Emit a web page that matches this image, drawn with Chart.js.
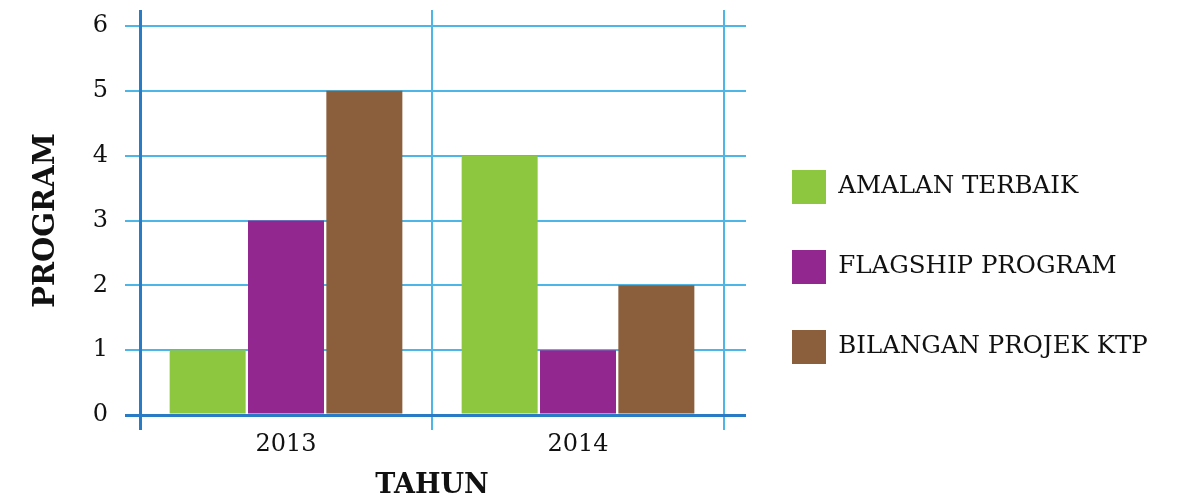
<!DOCTYPE html>
<html>
<head>
<meta charset="utf-8">
<script src="https://cdn.jsdelivr.net/npm/chart.js@4"></script>
<style>
  html, body { margin: 0; padding: 0; background: #ffffff; }
  #wrap { position: relative; width: 1193px; height: 499px; }
</style>
</head>
<body>
<div id="wrap"><canvas id="c" width="1193" height="499"></canvas></div>
<script>
const categories = ['2013', '2014'];
const seriesNames = ['AMALAN TERBAIK', 'FLAGSHIP PROGRAM', 'BILANGAN PROJEK KTP'];
const amalanTerbaik = [1, 4];
const flagshipProgram = [3, 1];
const bilanganProjekKtp = [5, 2];
const seriesColors = ['#8dc63f', '#92278f', '#8b5e3c'];
const yTicks = [0, 1, 2, 3, 4, 5, 6];
const xTitle = 'TAHUN';
const yTitle = 'PROGRAM';

const GRID = '#4db6e6';
const AXIS = '#2a7bc6';
const FONT = "'DejaVu Serif', serif";
const LEGEND_SIZE = 24.5;
const LEGEND_PAD = 46;
const BOX = 34;
const LEGEND_LEFT = 746;

// width of the legend so that its boxes start at the same place as in the reference
const mctx = document.createElement('canvas').getContext('2d');
mctx.font = LEGEND_SIZE + "px 'DejaVu Serif', serif";
const maxText = Math.max(...seriesNames.map(t => mctx.measureText(t).width));
const legendWidth = Math.ceil(LEGEND_PAD + BOX + LEGEND_SIZE / 2 + maxText + 2);
const padRight = 1193 - LEGEND_LEFT - legendWidth;

const gridColorY = c => (c.tick && c.tick.value === 0) ? AXIS : GRID;
const gridWidthY = c => (c.tick && c.tick.value === 0) ? 3 : 2;
const gridColorX = c => (c.index === 0) ? AXIS : GRID;
const gridWidthX = c => (c.index === 0) ? 3 : 2;

new Chart(document.getElementById('c'), {
  type: 'bar',
  data: {
    labels: categories,
    datasets: [
      { label: seriesNames[0], data: amalanTerbaik, backgroundColor: seriesColors[0] },
      { label: seriesNames[1], data: flagshipProgram, backgroundColor: seriesColors[1] },
      { label: seriesNames[2], data: bilanganProjekKtp, backgroundColor: seriesColors[2] }
    ]
  },
  options: {
    responsive: false,
    animation: false,
    devicePixelRatio: 1,
    layout: { padding: { top: 10, right: padRight, bottom: 0, left: 0 } },
    datasets: { bar: { categoryPercentage: 0.805, barPercentage: 0.97, borderWidth: 0 } },
    plugins: {
      tooltip: { enabled: false },
      legend: {
        position: 'right',
        align: 'center',
        maxWidth: legendWidth,
        title: { display: true, text: ' ', font: { size: 1 }, padding: { top: 24, bottom: 0 } },
        labels: {
          boxWidth: BOX,
          boxHeight: BOX,
          padding: LEGEND_PAD,
          color: '#111111',
          font: { family: FONT, size: LEGEND_SIZE }
        }
      }
    },
    scales: {
      x: {
        type: 'category',
        position: 'bottom',
        offset: true,
        afterFit: s => { s.height = 84; s.paddingLeft = 0; s.paddingRight = 0; },
        grid: { offset: true, color: gridColorX, lineWidth: gridWidthX, tickColor: gridColorX, tickWidth: gridWidthX, tickLength: 15, drawTicks: true },
        border: { display: true, color: AXIS, width: 3 },
        ticks: { color: '#111111', font: { family: FONT, size: 24 }, padding: 0, maxRotation: 0 },
        title: { display: true, text: xTitle, color: '#111111', font: { family: FONT, size: 27, weight: 'bold' }, padding: { top: 0, bottom: -3 } }
      },
      x2: {
        type: 'category',
        position: 'top',
        offset: true,
        afterFit: s => { s.height = 16; s.paddingLeft = 0; s.paddingRight = 0; },
        grid: { offset: true, drawOnChartArea: false, color: gridColorX, lineWidth: gridWidthX, tickColor: gridColorX, tickWidth: gridWidthX, tickLength: 16 },
        border: { display: false },
        ticks: { display: false }
      },
      y: {
        type: 'linear',
        position: 'left',
        min: 0,
        max: 6,
        afterFit: s => { s.width = 140; s.paddingTop = 0; s.paddingBottom = 0; },
        afterBuildTicks: s => { s.ticks = yTicks.map(v => ({ value: v })); },
        grid: { color: gridColorY, lineWidth: gridWidthY, tickColor: gridColorY, tickWidth: gridWidthY, tickLength: 15 },
        border: { display: true, color: AXIS, width: 3 },
        ticks: { color: '#111111', font: { family: FONT, size: 24 }, padding: 17 },
        title: { display: true, text: yTitle, color: '#111111', font: { family: FONT, size: 29, weight: 'bold' }, padding: { top: 29, bottom: 0 } }
      },
      y2: {
        type: 'linear',
        position: 'right',
        min: 0,
        max: 6,
        afterFit: s => { s.width = 22; s.paddingTop = 0; s.paddingBottom = 0; },
        afterBuildTicks: s => { s.ticks = yTicks.map(v => ({ value: v })); },
        grid: { drawOnChartArea: false, color: gridColorY, lineWidth: gridWidthY, tickColor: gridColorY, tickWidth: gridWidthY, tickLength: 22 },
        border: { display: false },
        ticks: { display: false }
      }
    }
  }
});
</script>
</body>
</html>
